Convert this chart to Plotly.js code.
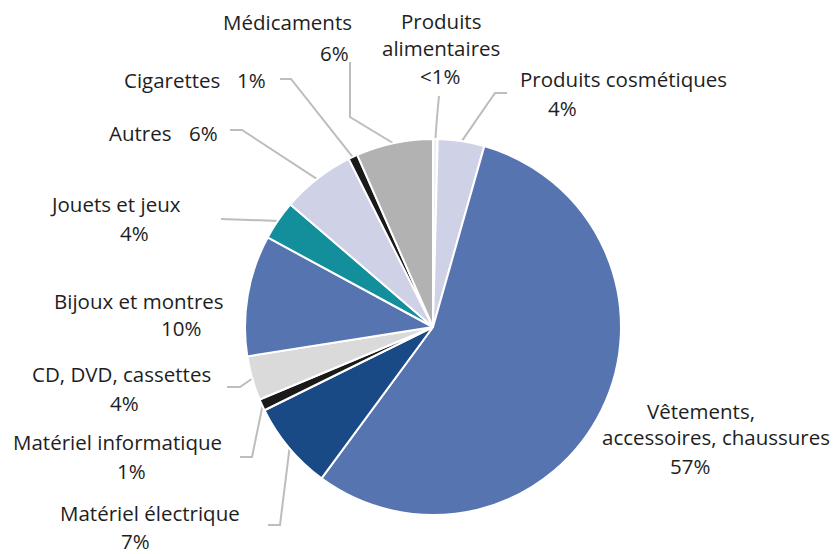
<!DOCTYPE html>
<html>
<head>
<meta charset="utf-8">
<script src="https://cdn.plot.ly/plotly-3.0.1.min.js"></script>
<style>
  html, body { margin: 0; padding: 0; background: #ffffff; }
  #chart { width: 835px; height: 554px; }
</style>
</head>
<body>
<div id="chart"></div>
<script>
// ---- Data ----
const categories = [
  "Produits alimentaires",
  "Produits cosmétiques",
  "Vêtements, accessoires, chaussures",
  "Matériel électrique",
  "Matériel informatique",
  "CD, DVD, cassettes",
  "Bijoux et montres",
  "Jouets et jeux",
  "Autres",
  "Cigarettes",
  "Médicaments"
];
const shares = [0.4, 4.0, 55.7, 7.6, 1.0, 3.8, 10.4, 3.4, 6.3, 0.8, 6.6];
const pctLabels = ["<1%", "4%", "57%", "7%", "1%", "4%", "10%", "4%", "6%", "1%", "6%"];
const nameLines = [
  ["Produits", "alimentaires"],
  ["Produits cosmétiques"],
  ["Vêtements,", "accessoires, chaussures"],
  ["Matériel électrique"],
  ["Matériel informatique"],
  ["CD, DVD, cassettes"],
  ["Bijoux et montres"],
  ["Jouets et jeux"],
  ["Autres"],
  ["Cigarettes"],
  ["Médicaments"]
];
const colors = [
  "#f0f0f0", "#cfd1e6", "#5674b0", "#1a4a85", "#1a1a1a", "#dadada",
  "#5674b0", "#138f9c", "#cfd1e6", "#1a1a1a", "#b2b2b2"
];

// ---- Layout (pixel positions of labels and leader-line elbows) ----
const W = 835, H = 554;
const CX = 433, CY = 327, R = 188;
const namePos = [
  [[441, 21], [441, 48]],
  [[623, 79]],
  [[701, 411], [716, 437]],
  [[150, 513]],
  [[118, 442]],
  [[121, 374]],
  [[139, 301]],
  [[115, 204]],
  [[140, 133]],
  [[172, 80]],
  [[287, 22]]
];
const pctPos = [
  [440, 76], [562, 108], [690, 466], [135, 541], [131, 471], [125, 403],
  [181, 328], [134, 233], [203, 133], [252, 80], [334, 53]
];
const leaderPts = [
  [[439, 96], [437, 117]],
  [[507, 93], [495, 93]],
  null,
  [[268, 525], [280, 525]],
  [[240, 457], [252, 457]],
  [[227, 387], [240, 387]],
  null,
  [[221, 219]],
  [[230, 130], [242, 130]],
  [[280, 79], [291, 79]],
  [[350, 62], [350, 117]]
];

const px = x => x / W;
const py = y => 1 - y / H;

const total = shares.reduce((a, b) => a + b, 0);
const annotations = [];
const shapes = [];
const font = { family: "'Open Sans', 'Noto Sans', sans-serif", size: 20.5, color: "#1e1e1e" };

let cum = 0;
shares.forEach((v, i) => {
  const mid = (cum + v / 2) / total * 2 * Math.PI;
  cum += v;
  nameLines[i].forEach((t, k) => {
    annotations.push({
      text: t, x: px(namePos[i][k][0]), y: py(namePos[i][k][1]),
      xref: "paper", yref: "paper", xanchor: "center", yanchor: "middle",
      showarrow: false, font: font
    });
  });
  annotations.push({
    text: pctLabels[i], x: px(pctPos[i][0]), y: py(pctPos[i][1]),
    xref: "paper", yref: "paper", xanchor: "center", yanchor: "middle",
    showarrow: false, font: font
  });
  if (leaderPts[i]) {
    const ex = CX + (R - 1) * Math.sin(mid);
    const ey = CY - (R - 1) * Math.cos(mid);
    const pts = leaderPts[i].concat([[ex, ey]]);
    const path = pts.map((p, k) => (k ? "L" : "M") + px(p[0]).toFixed(5) + "," + py(p[1]).toFixed(5)).join(" ");
    shapes.push({
      type: "path", xref: "paper", yref: "paper", path: path,
      line: { color: "#bdbdbd", width: 2 }, layer: "below"
    });
  }
});

const trace = {
  type: "pie",
  labels: categories,
  values: shares,
  sort: false,
  direction: "clockwise",
  rotation: 0,
  textinfo: "none",
  hoverinfo: "none",
  marker: { colors: colors, line: { color: "#ffffff", width: 2 } },
  domain: { x: [(CX - R) / W, (CX + R) / W], y: [1 - (CY + R) / H, 1 - (CY - R) / H] },
  showlegend: false
};

const layout = {
  width: W, height: H,
  margin: { l: 0, r: 0, t: 0, b: 0 },
  paper_bgcolor: "#ffffff",
  showlegend: false,
  annotations: annotations,
  shapes: shapes
};

Plotly.newPlot("chart", [trace], layout, { displayModeBar: false, staticPlot: true });
</script>
</body>
</html>
